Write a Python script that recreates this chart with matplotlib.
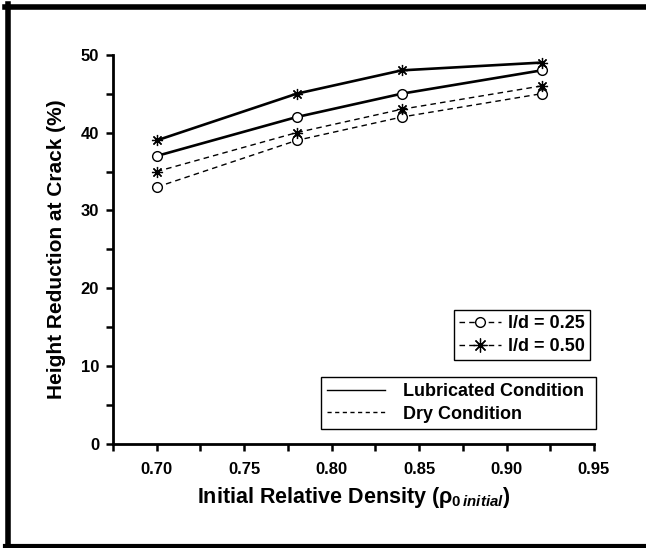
import matplotlib
matplotlib.use('Agg')
import matplotlib.pyplot as plt
from matplotlib.lines import Line2D
from matplotlib.ticker import MultipleLocator

plt.rcParams['font.family'] = ['Liberation Sans', 'DejaVu Sans']
plt.rcParams['font.weight'] = 'bold'
plt.rcParams['mathtext.fontset'] = 'custom'
plt.rcParams['mathtext.rm'] = 'Liberation Sans:bold'
plt.rcParams['mathtext.it'] = 'Liberation Sans:bold:italic'
plt.rcParams['mathtext.bf'] = 'Liberation Sans:bold'
plt.rcParams['mathtext.default'] = 'rm'

# data
density = [0.70, 0.78, 0.84, 0.92]
lub_025 = [37, 42, 45, 48]
lub_050 = [39, 45, 48, 49]
dry_025 = [33, 39, 42, 45]
dry_050 = [35, 40, 43, 46]

ratio_labels = ['l/d = 0.25', 'l/d = 0.50']
cond_labels = ['Lubricated Condition', 'Dry Condition']

star = (8, 2, 0)
dash = (0, (4, 3))

fig = plt.figure(figsize=(6.46, 5.48), dpi=100)
ax = fig.add_axes([0.175, 0.190, 0.7445, 0.710])

ax.plot(density, lub_025, color='k', lw=1.9, marker='o', ms=7, mfc='white', mec='k', mew=1)
ax.plot(density, lub_050, color='k', lw=1.9, marker=star, ms=8, mec='k', mew=0.9)
ax.plot(density, dry_025, color='k', lw=1, ls=dash, marker='o', ms=7, mfc='white', mec='k', mew=1)
ax.plot(density, dry_050, color='k', lw=1, ls=dash, marker=star, ms=8, mec='k', mew=0.9)

ax.set_xlim(0.675, 0.95)
ax.set_ylim(0, 50)
ax.xaxis.set_major_locator(MultipleLocator(0.05))
ax.xaxis.set_minor_locator(MultipleLocator(0.025))
ax.yaxis.set_major_locator(MultipleLocator(10))
ax.yaxis.set_minor_locator(MultipleLocator(5))
ax.xaxis.set_major_formatter(plt.FuncFormatter(lambda v, p: f'{v:.2f}'))

for s in ['top', 'right']:
    ax.spines[s].set_visible(False)
for s in ['left', 'bottom']:
    ax.spines[s].set_linewidth(2)
ax.tick_params(which='both', direction='out', width=1.8, labelsize=12)
ax.tick_params(which='major', length=5, pad=5)
ax.tick_params(which='minor', length=5)
ax.tick_params(axis='x', pad=8)
for t in ax.get_xticklabels() + ax.get_yticklabels():
    t.set_fontweight('bold')

ax.set_xlabel(r'Initial Relative Density (ρ$_{0\,\mathit{initial}}$)', fontsize=15.5,
              fontweight='bold', labelpad=6)
ax.set_ylabel('Height Reduction at Crack (%)', fontsize=15, fontweight='bold', labelpad=11)

h1 = [Line2D([], [], color='k', lw=1, ls=dash, marker='o', ms=7, mfc='white', mec='k'),
      Line2D([], [], color='k', lw=1, ls=dash, marker=star, ms=10, mec='k', mew=0.9)]
leg1 = ax.legend(h1, ratio_labels, loc='upper left', bbox_to_anchor=(0.709, 0.344),
                 borderaxespad=0, fancybox=False, edgecolor='k', framealpha=1,
                 handlelength=2.3, handletextpad=0.4, borderpad=0.3, labelspacing=0.3,
                 prop={'weight': 'bold', 'size': 13})
leg1.get_frame().set_linewidth(1)
ax.add_artist(leg1)

h2 = [Line2D([], [], color='k', lw=1),
      Line2D([], [], color='k', lw=1, ls=(0, (3, 2.5)))]
leg2 = ax.legend(h2, cond_labels, loc='upper left', bbox_to_anchor=(0.432, 0.031, 0.5715, 0.141),
                 mode='expand', borderaxespad=0, fancybox=False, edgecolor='k', framealpha=1,
                 handlelength=3.2, handletextpad=1.0, borderpad=0.35, labelspacing=0.3,
                 prop={'weight': 'bold', 'size': 13})
leg2.get_frame().set_linewidth(1)

# outer frame
fig.add_artist(Line2D([0.0077, 1.0], [0.9881, 0.9881], transform=fig.transFigure, color='k', lw=4))
fig.add_artist(Line2D([0.0125, 0.0125], [0.0, 0.992], transform=fig.transFigure, color='k', lw=4))
fig.add_artist(Line2D([0.0077, 1.0], [0.0036, 0.0036], transform=fig.transFigure, color='k', lw=3))

fig.savefig('out.png', dpi=100)
